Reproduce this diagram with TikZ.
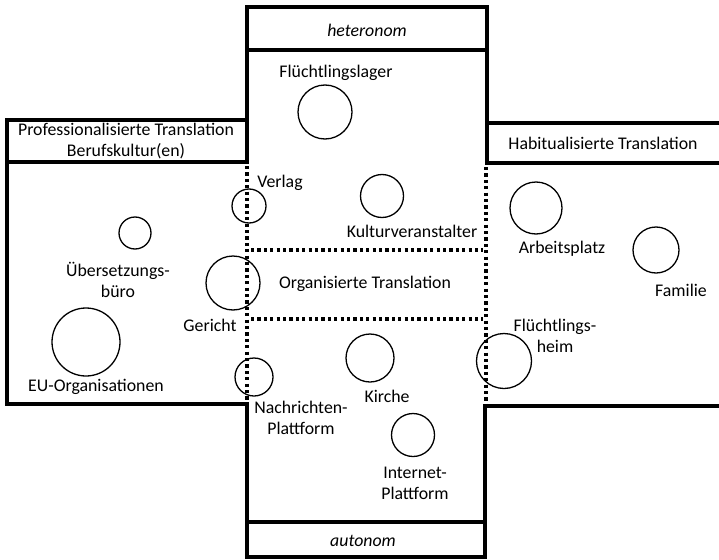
\documentclass[tikz,border=0pt]{standalone}
\usepackage{fontspec}
\setmainfont{Carlito}
\begin{document}
\begin{tikzpicture}[x=1pt,y=-1pt,
  frame/.style={line width=3.2pt,line cap=rect},
  dotline/.style={line width=3.2pt,dash pattern=on 3.2pt off 3.2pt},
  org/.style={circle,draw,line width=1.3pt,inner sep=0pt},
  lbl/.style={font=\fontsize{17.8}{21}\selectfont,inner sep=0pt,align=center}]
\useasboundingbox (0,0) rectangle (719,559);
% frame
\draw[frame] (247,162) -- (247,7) -- (487,7) -- (487,163);
\draw[frame] (247,50) -- (487,50);
\draw[frame] (247,120) -- (7,120) -- (7,404) -- (247,404) -- (247,557) -- (485,557) -- (485,406) -- (719,406);
\draw[frame] (7,162) -- (247,162);
\draw[frame] (487,123) -- (719,123);
\draw[frame] (487,163) -- (719,163);
\draw[frame] (247,522) -- (485,522);
% dotted
\draw[dotline] (247,166) -- (247,402);
\draw[dotline] (486,167) -- (486,404);
\draw[dotline] (251,250) -- (483,250);
\draw[dotline] (251,319) -- (483,319);
% headings
\node[lbl,font=\fontsize{17.8}{21}\selectfont\itshape] (het) at (367,30) {heteronom};
\node[lbl,font=\fontsize{17.8}{21}\selectfont\itshape] (aut) at (363,541) {autonom};
\node[lbl] (prof) at (126,141) {Professionalisierte Translation\\Berufskultur(en)};
\node[lbl] (hab) at (603,143) {Habitualisierte Translation};
\node[lbl] (orgt) at (365,284) {Organisierte Translation};
% circles
\node[org,minimum size=54pt] (c1) at (325,112) {};
\node[org,minimum size=34pt] (c2) at (249,206) {};
\node[org,minimum size=43pt] (c3) at (382,196) {};
\node[org,minimum size=54pt] (c4) at (233,283) {};
\node[org,minimum size=32pt] (c5) at (135,233) {};
\node[org,minimum size=68pt] (c6) at (86,342) {};
\node[org,minimum size=38pt] (c7) at (254,377) {};
\node[org,minimum size=48pt] (c8) at (370,358) {};
\node[org,minimum size=43pt] (c9) at (413,435) {};
\node[org,minimum size=55pt] (c10) at (504,361) {};
\node[org,minimum size=52pt] (c11) at (536,208) {};
\node[org,minimum size=46pt] (c12) at (656,250) {};
% labels
\node[lbl] (l1) at (336,73) {Flüchtlingslager};
\node[lbl] (l2) at (280,183) {Verlag};
\node[lbl] (l3) at (412,231) {Kulturveranstalter};
\node[lbl] (l4) at (118,280) {Übersetzungs-\\büro};
\node[lbl] (l5) at (210,325) {Gericht};
\node[lbl] (l6) at (96,387) {EU-Organisationen};
\node[lbl] (l7) at (301,418) {Nachrichten-\\Plattform};
\node[lbl] (l8) at (387,396) {Kirche};
\node[lbl] (l9) at (415,483) {Internet-\\Plattform};
\node[lbl] (l10) at (555,336) {Flüchtlings-\\heim};
\node[lbl] (l11) at (562,249) {Arbeitsplatz};
\node[lbl] (l12) at (681,290) {Familie};
\end{tikzpicture}
\end{document}
